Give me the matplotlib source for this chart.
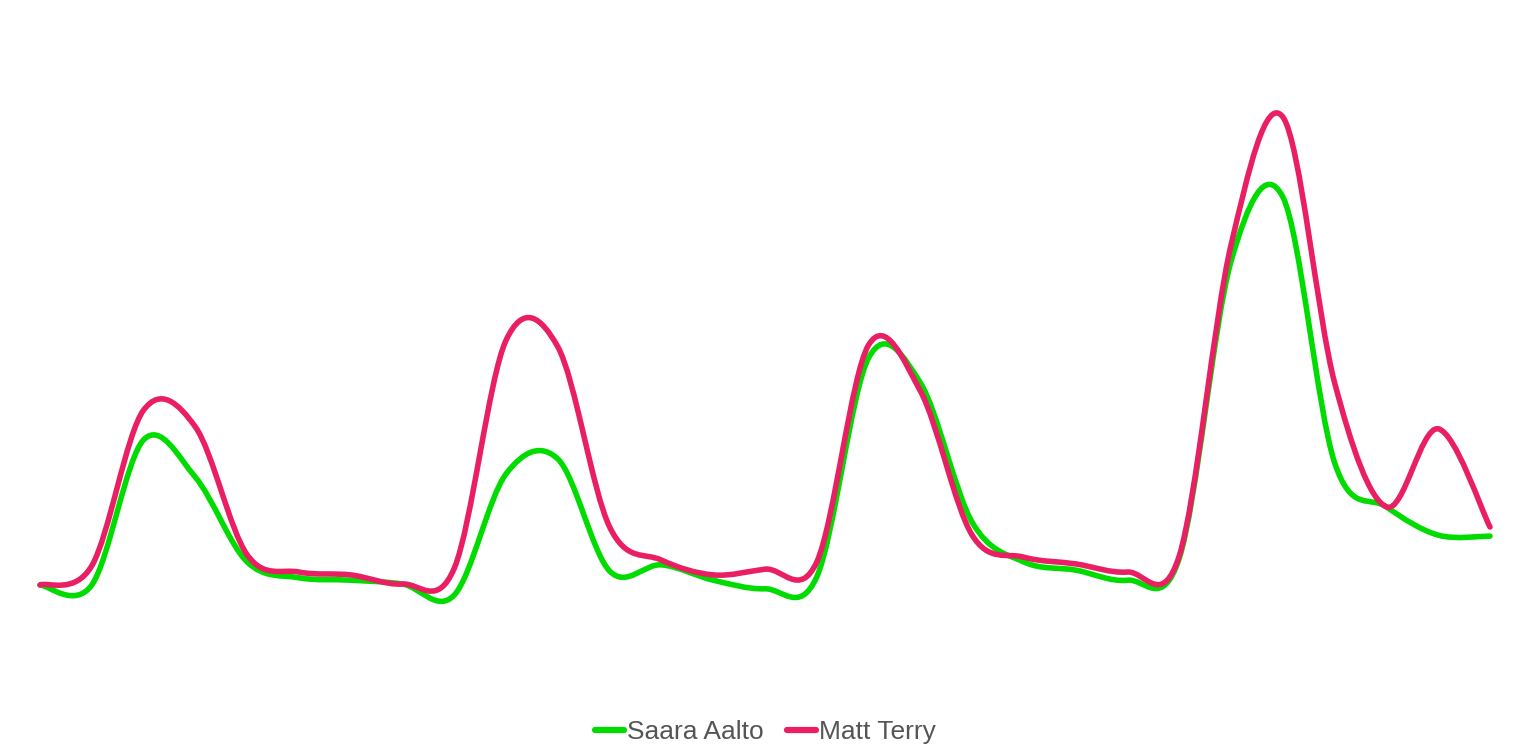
import numpy as np
import matplotlib
matplotlib.use('Agg')
import matplotlib.pyplot as plt
from matplotlib.path import Path
from matplotlib.patches import PathPatch
from matplotlib.lines import Line2D

# ===============================================================================================
# values (no axes shown, relative interest)
days = list(range(29))
saara = [2.3, 2.3, 32.6, 24.8, 7.1, 3.8, 3.3, 2.5, 0.2, 25.5, 28.6, 5.2, 6.5, 3.3, 1.5,
         4.0, 49.7, 44.5, 15.4, 7.1, 5.4, 3.3, 7.9, 69.9, 83.3, 27.8, 18.6, 12.7, 12.5]
matt = [2.3, 6.3, 38.8, 35.3, 8.6, 5.0, 4.4, 2.5, 5.8, 53.4, 52.0, 14.4, 7.5, 4.4, 5.6,
        7.1, 52.4, 42.8, 12.7, 8.1, 6.7, 5.0, 8.4, 73.3, 100.0, 44.5, 18.6, 34.9, 14.4]
names = ['Saara Aalto', 'Matt Terry']
colors = ['#00DC00', '#E91E63']


def spline_path(xs, ys, tension=2.0):
    # cardinal spline through the points, as cubic bezier segments
    n = len(xs)
    verts = [(xs[0], ys[0])]
    codes = [Path.MOVETO]
    for i in range(1, n):
        p0, p1, p2, p3 = max(i - 2, 0), i - 1, i, min(i + 1, n - 1)
        c1 = (xs[p1] + (xs[p2] - xs[p0]) / tension / 3, ys[p1] + (ys[p2] - ys[p0]) / tension / 3)
        c2 = (xs[p2] - (xs[p3] - xs[p1]) / tension / 3, ys[p2] - (ys[p3] - ys[p1]) / tension / 3)
        verts += [c1, c2, (xs[p2], ys[p2])]
        codes += [Path.CURVE4] * 3
    return Path(verts, codes)


fig = plt.figure(figsize=(15.28, 7.56), dpi=100)
ax = fig.add_axes([40 / 1528, 1 - 640 / 756, 1450 / 1528, 540 / 756])
for series, col in zip([saara, matt], colors):
    patch = PathPatch(spline_path(days, series), facecolor='none', edgecolor=col,
                      lw=4, capstyle='round', joinstyle='round', clip_on=False)
    ax.add_patch(patch)
ax.set_xlim(0, 28)
ax.set_ylim(-9.19, 103.55)
ax.axis('off')

handles = [Line2D([], [], color=c, lw=4.5, solid_capstyle='round') for c in colors]
fig.legend(handles, names, loc='center', bbox_to_anchor=(0.501, 0.032), ncol=2, frameon=False,
           prop={'family': 'Liberation Sans', 'size': 19}, labelcolor='#555555',
           handlelength=1.1, handletextpad=0.1, columnspacing=0.9)

fig.savefig('out.png', dpi=100, facecolor='white')
